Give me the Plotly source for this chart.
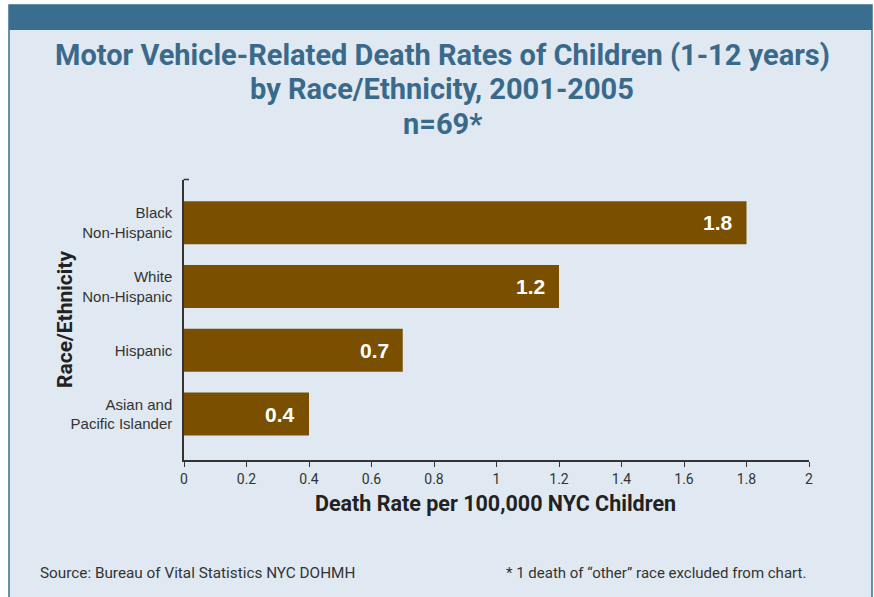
import plotly.graph_objects as go

# Data
groups = ["Asian and<br>Pacific Islander", "Hispanic", "White<br>Non-Hispanic", "Black<br>Non-Hispanic"]
rates = [0.4, 0.7, 1.2, 1.8]
x_ticks = [0, 0.2, 0.4, 0.6, 0.8, 1, 1.2, 1.4, 1.6, 1.8, 2]
x_tick_labels = ["0", "0.2", "0.4", "0.6", "0.8", "1", "1.2", "1.4", "1.6", "1.8", "2"]

title_lines = [
    "Motor Vehicle-Related Death Rates of Children (1-12 years)",
    "by Race/Ethnicity, 2001-2005",
    "n=69*",
]
source_note = "Source: Bureau of Vital Statistics NYC DOHMH"
footnote = "* 1 death of \u201cother\u201d race excluded from chart."

W, H = 874, 597
L, R, T, B = 184, 809, 180, 460  # plot area in pixels

BG = "#e0e9f1"
BAND = "#3a6e8f"
TITLE_C = "#3a6a8b"
BAR_C = "#7a5000"
TEXT_C = "#333333"
HEAD = "Roboto, Liberation Sans, Arial, sans-serif"
BODY = "Liberation Sans, Arial, sans-serif"


def px(x):
    return (x - L) / (R - L)


def py(y):
    return (B - y) / (B - T)


fig = go.Figure()
fig.add_trace(go.Bar(
    x=rates, y=groups, orientation="h",
    marker=dict(color=BAR_C, line=dict(width=0)),
    width=0.675,
    hoverinfo="skip",
))

shapes = [
    # panel background and frame
    dict(type="rect", xref="paper", yref="paper", layer="below",
         x0=px(9), x1=px(872), y0=py(5), y1=py(610),
         fillcolor=BG, line=dict(color=BAND, width=1.5)),
    # header band
    dict(type="rect", xref="paper", yref="paper", layer="below",
         x0=px(9), x1=px(872), y0=py(5), y1=py(30),
         fillcolor=BAND, line=dict(width=0)),
    # small cap tick at the top of the category axis
    dict(type="line", xref="paper", yref="paper",
         x0=px(183.5), x1=px(189), y0=py(179.5), y1=py(179.5),
         line=dict(color="#333333", width=1.5)),
]

annotations = []
for line, yc in zip(title_lines, [55, 89, 124]):
    annotations.append(dict(
        text=f"<b>{line}</b>", xref="paper", yref="paper",
        x=px(442), y=py(yc), xanchor="center", yanchor="middle",
        showarrow=False, font=dict(family=HEAD, size=29, color=TITLE_C),
    ))

# value labels at the end of each bar
for g, v in zip(groups, rates):
    annotations.append(dict(
        text=f"<b>{v}</b>", x=v, y=g, xref="x", yref="y",
        xanchor="right", yanchor="middle", xshift=-12,
        showarrow=False, font=dict(family=BODY, size=21, color="white"),
    ))

annotations += [
    dict(text="<b>Race/Ethnicity</b>", xref="paper", yref="paper",
         x=px(65), y=py(319), xanchor="center", yanchor="middle", textangle=-90,
         showarrow=False, font=dict(family=HEAD, size=21, color="#222222")),
    dict(text="<b>Death Rate per 100,000 NYC Children</b>", xref="paper", yref="paper",
         x=px(495), y=py(503), xanchor="center", yanchor="middle",
         showarrow=False, font=dict(family=HEAD, size=21.5, color="#222222")),
    dict(text=source_note, xref="paper", yref="paper",
         x=px(38), y=py(573), xanchor="left", yanchor="middle",
         showarrow=False, font=dict(family=HEAD, size=15.3, color=TEXT_C)),
    dict(text=footnote, xref="paper", yref="paper",
         x=px(808), y=py(573), xanchor="right", yanchor="middle",
         showarrow=False, font=dict(family=HEAD, size=15, color=TEXT_C)),
]

fig.update_layout(
    width=W, height=H,
    margin=dict(l=L, r=W - R, t=T, b=H - B, pad=0),
    paper_bgcolor="white", plot_bgcolor=BG,
    showlegend=False,
    shapes=shapes, annotations=annotations,
    xaxis=dict(
        range=[0, 2], tickvals=x_ticks, ticktext=x_tick_labels,
        showgrid=False, zeroline=False,
        showline=True, linecolor="#333333", linewidth=1.5,
        ticks="outside", ticklen=5, tickcolor="#333333", tickwidth=1,
        tickfont=dict(family=HEAD, size=14, color=TEXT_C),
        fixedrange=True,
    ),
    yaxis=dict(
        range=[-0.72, 3.67], showgrid=False, zeroline=False,
        showline=True, linecolor="#333333", linewidth=1.5,
        ticks="", ticklabelstandoff=7,
        tickfont=dict(family=BODY, size=15, color=TEXT_C),
        fixedrange=True,
    ),
)

fig.write_html("out.html", config={"displayModeBar": False})
